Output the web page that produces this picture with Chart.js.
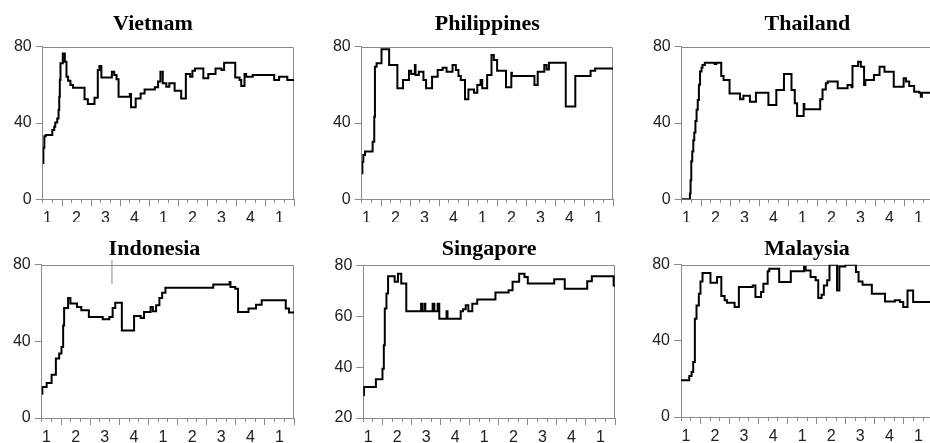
<!DOCTYPE html>
<html>
<head>
<meta charset="utf-8">
<script src="https://cdn.jsdelivr.net/npm/chart.js@4.4.0/dist/chart.umd.min.js"></script>
<style>
  html, body { margin: 0; padding: 0; background: #fff; }
  body { width: 930px; height: 443px; overflow: hidden; position: relative; }
  canvas { position: absolute; }
</style>
</head>
<body>
<canvas id="vietnam"></canvas>
<canvas id="philippines"></canvas>
<canvas id="thailand"></canvas>
<canvas id="indonesia"></canvas>
<canvas id="singapore"></canvas>
<canvas id="malaysia"></canvas>
<script>
// x values are months counted from the start of the first year (Feb = 1 ... end of Mar, year 3 = 27)
const quarterLabels = ['1', '2', '3', '4', '1', '2', '3', '4', '1'];
const monthStart = 1;
const monthEnd = 27;

const vietnam = [[1.00,19],[1.07,27],[1.17,33],[1.31,33.7],[1.99,36.3],[2.19,38],[2.30,40.2],[2.50,42.4],[2.64,46.8],[2.71,53.8],[2.77,62.5],[2.84,71.3],[3.08,76.5],[3.29,72.1],[3.46,64.3],[3.63,62.2],[3.87,59.9],[4.14,58.5],[5.33,52.4],[5.67,50],[6.36,53.3],[6.70,67.8],[6.87,69.9],[7.07,63.9],[8.16,66.9],[8.40,65.2],[8.64,62.9],[8.85,53.8],[10.01,55.2],[10.14,48.2],[10.62,52.8],[11.13,55.5],[11.54,57.6],[12.60,58.7],[12.94,61.7],[13.18,66.9],[13.42,60.8],[13.79,59],[14.10,60.8],[14.65,56.9],[15.33,52.9],[15.81,65.7],[16.25,64.3],[16.49,67.4],[16.76,68.6],[17.62,63.4],[18.13,65.7],[18.88,68.6],[19.49,67.8],[19.77,71.6],[20.92,63.9],[21.37,62.5],[21.54,59.4],[21.88,65.7],[22.05,64.3],[22.73,65.2],[24.95,62.5],[25.46,64.3],[26.31,62.5],[27,62.5]];

const philippines = [[1.00,13.6],[1.07,19.7],[1.17,23.2],[1.34,25],[2.13,30.2],[2.30,43.3],[2.37,69.5],[2.54,71.3],[3.05,78.6],[3.84,70.4],[4.69,58.2],[5.27,62.5],[5.89,67.4],[6.12,65.7],[6.50,70.4],[6.57,65.2],[6.91,66.9],[7.39,62.5],[7.66,58.2],[8.28,64.3],[8.86,67.8],[9.37,69],[9.78,66.9],[10.40,70.4],[10.74,67.8],[11.01,64.6],[11.25,62.5],[11.69,52.4],[12.04,57.6],[12.62,55.9],[12.96,59.9],[13.30,62.5],[13.47,58.2],[13.98,65.2],[14.43,75.6],[14.67,73],[15.01,67.4],[15.93,58.7],[16.48,66.4],[16.54,64.6],[18.87,59.9],[19.21,66.9],[19.89,70.4],[20.13,68.1],[20.37,71.6],[22.11,48.6],[23.10,64.6],[24.68,67.4],[25.15,68.6],[27,68.6]];

const thailand = [[1.00,0],[1.85,3],[1.92,10],[1.99,20],[2.09,25],[2.20,31],[2.30,35],[2.42,41],[2.54,47],[2.66,52],[2.78,60],[2.90,67],[3.05,69],[3.15,70.4],[3.39,71.6],[4.41,70.9],[4.58,71.6],[5.09,64.6],[5.33,62.5],[5.95,55.5],[7.04,52.4],[7.38,54.3],[8.06,51.2],[8.68,55.9],[9.97,49.4],[10.79,57.3],[11.58,65.7],[12.36,57.3],[12.70,50.3],[12.94,43.7],[13.62,50],[13.69,47.2],[15.33,52.4],[15.57,57.6],[15.91,60.8],[16.11,61.7],[17.14,58.2],[18.16,59.9],[18.57,58.7],[18.67,69.9],[19.25,72.1],[19.53,69.5],[19.87,59.9],[20.00,62.5],[20.89,65.2],[21.47,69.5],[21.98,66.9],[22.94,59],[23.96,63.4],[24.20,61.7],[24.54,59.4],[25.05,56.4],[25.57,55.9],[25.74,53.8],[25.85,55.9],[27,55.9]];

const indonesia = [[1.00,12.7],[1.07,16.2],[1.51,18.3],[2.02,22.6],[2.46,31],[2.80,33.6],[3.04,37],[3.21,48.3],[3.31,57.4],[3.72,62.6],[3.96,59.7],[4.64,57.9],[5.08,56.2],[5.86,52.7],[7.29,51.5],[7.97,52.7],[8.31,57.4],[8.58,60.2],[9.26,45.7],[10.52,53.2],[11.20,52.2],[11.54,55.3],[12.22,57.9],[12.45,55.7],[12.79,58.8],[13.13,62.6],[13.41,65.4],[13.75,68],[18.68,69.7],[20.37,71],[20.45,68.3],[20.95,67.5],[21.23,55.3],[22.31,57.1],[23.09,59.1],[23.67,61.4],[26.15,57.1],[26.49,55],[27,55]];
// stray vertical stroke visible in the Indonesia panel
const indonesiaMark = [[8.24,70],[8.24,82.5]];

const singapore = [[1.00,28.9],[1.07,32.2],[2.30,35.2],[2.98,39.4],[3.12,48.6],[3.22,63],[3.39,68.9],[3.56,75.7],[4.24,73.5],[4.58,76.7],[4.92,72.8],[5.44,61.9],[6.97,64.9],[7.07,61.9],[7.31,64.9],[7.41,61.9],[8.16,64.9],[8.34,61.9],[8.68,64.9],[8.85,59],[9.60,61.9],[9.70,59],[11.06,61.9],[11.30,62.7],[11.58,64.3],[11.85,61.9],[12.26,64.9],[12.77,66.6],[14.65,69.3],[16.01,70.2],[16.42,73.5],[17.10,76.7],[17.65,75.4],[17.99,72.8],[20.72,74.5],[21.81,70.8],[24.13,73.7],[24.61,75.7],[26.86,72.1],[27,72.1]];

const malaysia = [[1.00,19.3],[1.85,21.5],[2.09,23.6],[2.26,28.9],[2.43,51.6],[2.60,58.6],[2.84,64.8],[3.01,71.2],[3.22,75.6],[4.04,70.5],[4.72,73.5],[5.16,63.5],[5.50,61.3],[5.74,60],[6.53,57.8],[6.97,68.3],[8.40,69.1],[8.68,63],[9.26,65.6],[9.50,70],[9.94,76.5],[10.11,77.9],[11.13,70.9],[12.33,76.5],[13.69,78.8],[13.86,77],[14.37,73.5],[14.89,71.8],[15.16,62.5],[15.50,64.2],[15.74,69.1],[16.08,71.8],[16.32,80],[17.10,66.5],[17.34,79.1],[17.96,80],[19.05,76.1],[19.32,71.2],[19.73,69.5],[20.69,64.8],[22.05,60.7],[23.07,61.3],[23.59,60.4],[23.93,57.8],[24.37,66.5],[24.95,60.4],[27,60.4]];

const axisGray = '#8a8a8a';
const tickFont = { family: 'Liberation Sans, Arial, sans-serif', size: 16 };

// panel placement on the page
const rowOne = { top: 0, height: 222, xHeight: 22.7, titlePad: { top: 10.8, bottom: 9.5 } };
const rowTwo = { top: 222, height: 221, xHeight: 25, titlePad: { top: 14.6, bottom: 1.7 } };
const panels = [
  { id: 'vietnam', title: 'Vietnam', data: vietnam, yMin: 0, yStep: 40, row: rowOne, left: 0, width: 297, padLeft: 9, padRight: 0, yWidth: 33.7, titleFull: true },
  { id: 'philippines', title: 'Philippines', data: philippines, yMin: 0, yStep: 40, row: rowOne, left: 320, width: 296, padLeft: 0, padRight: 0.7, yWidth: 41.7, titleFull: false },
  { id: 'thailand', title: 'Thailand', data: thailand, yMin: 0, yStep: 40, row: rowOne, left: 640, width: 296, padLeft: 0, padRight: 0.3, yWidth: 41.7, titleFull: false },
  { id: 'indonesia', title: 'Indonesia', data: indonesia, mark: indonesiaMark, yMin: 0, yStep: 40, row: rowTwo, left: 0, width: 297, padLeft: 12.2, padRight: 0.3, yWidth: 29.5, titleFull: true },
  { id: 'singapore', title: 'Singapore', data: singapore, yMin: 20, yStep: 20, row: rowTwo, left: 320, width: 298, padLeft: 0, padRight: 0.7, yWidth: 43.3, titleFull: false, titlePad: { top: 14.6, bottom: 2.3 } },
  { id: 'malaysia', title: 'Malaysia', data: malaysia, yMin: 0, yStep: 40, row: rowTwo, left: 640, width: 296, padLeft: 0, padRight: 1, yWidth: 41, titleFull: false, xHeight: 26 }
];

// top and right edges of the plot box
const framePlugin = {
  id: 'frame',
  beforeDatasetsDraw(chart) {
    const { ctx, chartArea: a } = chart;
    ctx.save();
    ctx.strokeStyle = axisGray;
    ctx.lineWidth = 1;
    ctx.beginPath();
    ctx.moveTo(a.left, Math.round(a.top) + 0.5);
    ctx.lineTo(Math.round(a.right) - 0.5, Math.round(a.top) + 0.5);
    ctx.lineTo(Math.round(a.right) - 0.5, a.bottom);
    ctx.stroke();
    ctx.restore();
  }
};

function quarterIndex(value) {
  const i = (value - 1.5) / 3;
  return Number.isInteger(i) ? i : -1;
}

panels.forEach(p => {
  const canvas = document.getElementById(p.id);
  const xHeight = p.xHeight || p.row.xHeight;
  canvas.width = p.width;
  canvas.height = p.row.height;
  canvas.style.left = p.left + 'px';
  canvas.style.top = p.row.top + 'px';

  const datasets = [{
    data: p.data.map(([x, y]) => ({ x, y })),
    stepped: 'before',
    borderColor: '#000',
    borderWidth: 2,
    pointRadius: 0,
    fill: false,
    xAxisID: 'x',
    yAxisID: 'y'
  }];
  if (p.mark) {
    datasets.push({
      data: p.mark.map(([x, y]) => ({ x, y })),
      borderColor: axisGray,
      borderWidth: 1,
      pointRadius: 0,
      clip: false,
      xAxisID: 'x',
      yAxisID: 'y'
    });
  }

  new Chart(canvas, {
    type: 'line',
    data: { datasets },
    options: {
      responsive: false,
      animation: false,
      devicePixelRatio: 1,
      layout: { padding: { left: p.padLeft, right: p.padRight, top: 0, bottom: 0 } },
      plugins: {
        legend: { display: false },
        tooltip: { enabled: false },
        title: {
          display: true,
          text: p.title,
          fullSize: p.titleFull,
          color: '#000',
          font: { family: 'Liberation Serif, Times New Roman, serif', weight: 'bold', size: 22, lineHeight: 1.2 },
          padding: p.titlePad || p.row.titlePad
        }
      },
      scales: {
        x: {
          type: 'linear',
          position: 'bottom',
          min: monthStart,
          max: monthEnd,
          bounds: 'data',
          afterBuildTicks: s => {
            const ticks = [];
            for (let m = 3; m <= monthEnd; m += 3) ticks.push({ value: m });
            quarterLabels.forEach((l, i) => ticks.push({ value: 1.5 + 3 * i }));
            ticks.sort((a, b) => a.value - b.value);
            s.ticks = ticks;
          },
          afterFit: s => { s.height = xHeight; },
          ticks: {
            autoSkip: false,
            maxRotation: 0,
            padding: 3,
            color: '#222',
            font: tickFont,
            callback: value => {
              const i = quarterIndex(value);
              return i >= 0 ? quarterLabels[i] : '';
            }
          },
          grid: {
            drawOnChartArea: false,
            tickLength: 7,
            tickWidth: 1,
            tickColor: ctx => (ctx.tick && quarterIndex(ctx.tick.value) < 0) ? axisGray : 'rgba(0,0,0,0)'
          },
          border: { color: axisGray, width: 1 }
        },
        xm: {
          type: 'linear',
          axis: 'x',
          position: { y: p.yMin },
          min: monthStart,
          max: monthEnd,
          bounds: 'data',
          afterBuildTicks: s => {
            const ticks = [];
            for (let m = monthStart; m <= monthEnd; m++) ticks.push({ value: m });
            s.ticks = ticks;
          },
          ticks: { display: false },
          grid: { drawOnChartArea: false, tickLength: 4, tickColor: axisGray, tickWidth: 1 },
          border: { display: false }
        },
        y: {
          min: p.yMin,
          max: 80,
          afterFit: s => { s.width = p.yWidth; },
          ticks: { stepSize: p.yStep, padding: 4, color: '#222', font: tickFont },
          grid: { drawOnChartArea: false, tickLength: 7, color: axisGray },
          border: { color: axisGray, width: 1 }
        }
      }
    },
    plugins: [framePlugin]
  });
});
</script>
</body>
</html>
